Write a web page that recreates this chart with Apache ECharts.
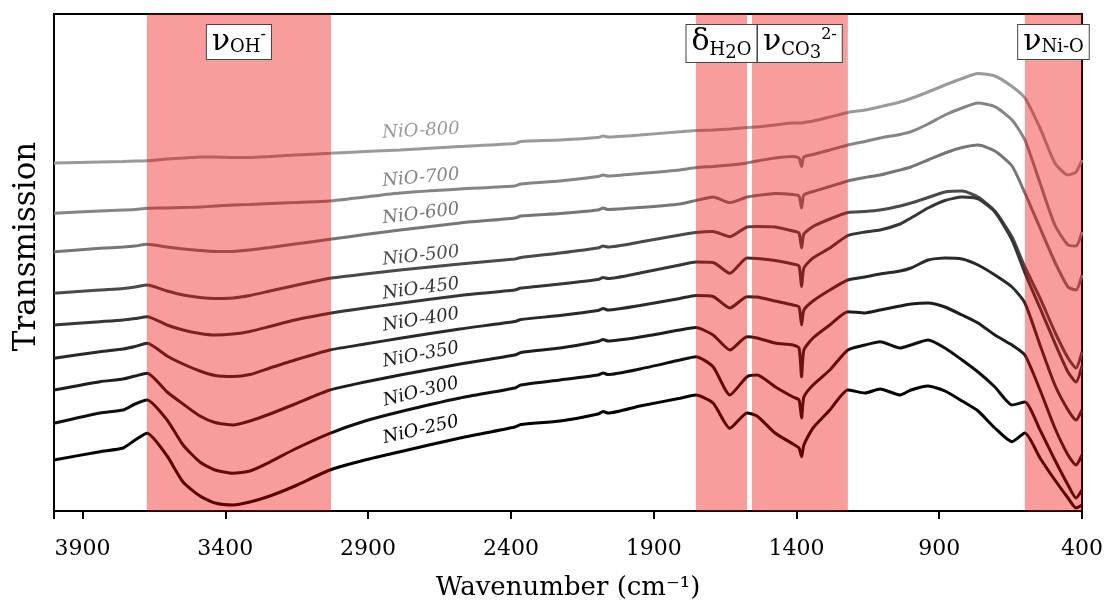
<!DOCTYPE html>
<html><head><meta charset="utf-8">
<script src="https://cdn.jsdelivr.net/npm/echarts@6/dist/echarts.min.js"></script>
<style>html,body{margin:0;padding:0;background:#fff}#c{width:1110px;height:603px}</style>
</head><body><div id="c"></div>
<script>
// x values: wavenumber (cm-1)
const wavenumbers = [4000,3839,3758,3716,3674,3604,3548,3489,3436,3373,3314,3244,3156,3034,2911,2788,2578,2386,2365,2228,2095,2077,2060,1948,1808,1752,1692,1633,1573,1538,1475,1412,1391,1382,1374,1342,1283,1220,1160,1107,1037,999,939,880,820,764,705,645,600,547,495,449,421,400];
// transmission (arbitrary offset units), one array per sample
const nio800 = [337,338,338.5,339,339.3,341,342,343,343,342.5,342.5,343.5,345,346.7,348.5,350,353.5,356.5,358.5,360,362.5,364,363,365,368.3,369.5,370,371,372.5,373,375,377,377,377,377.5,379,383,387.5,390,393.3,398,401.5,408,415,421.5,426.5,424,413.5,402,372,337,325,328,340];
const nio700 = [286.7,289,290,290.5,291.7,292,292.5,293,294,295,295.5,296.5,297.5,299,303,307,311,314,316,319,323.5,325,324,326.5,330,332.5,333.5,335,337,339,342,343.5,342,333.5,343,345.5,350,355,358.5,362,365.5,368.3,376,385,392,397,393.3,380,360,317,275,255,254,268];
const nio600 = [248.3,251.7,253,254,255.7,253,251,249.5,248.5,248.5,250,252.5,256,260.7,265.5,270,277,282,284,286.5,290,292,290.5,292.5,296,299.5,303,297.5,303,304.5,306.5,305.5,304,292,305,308.5,313.5,319,322.5,325,330,333,340,347,352.5,355,349,334,307,272,238,213,210,225];
const nio500 = [206.7,210,211.5,213,215,209,205,202.5,201.5,202,204.5,209,214.5,221.7,226,230,236,241,242.5,247,252,254,253,258,265,267.5,268.5,263.3,273,273.5,273,269,267,252,266,273.5,281,287.5,288.5,290,294,297,302.5,308,309,303,289,263,233,202,168,142,132,148];
const nio450 = [175,178.3,180,181.5,183.3,175,170,166.5,165,166,168.5,173.5,180,186.7,192,196.7,204.5,210,212,216,220.5,222.5,221.5,227,235,238,237.5,226.7,242,241.5,239.5,236,234,213.3,232,242,252,264.5,268,270,276,282,292,299.5,303,301,288,260,227,192,157,128,118,134];
const nio400 = [141.7,148.3,151,153.5,156.7,144,136,129,124.5,123.5,125.5,132,140,150,156,161.7,171,178.5,180.5,184.5,189.5,191.5,190,194.5,201.5,204.5,203.5,192,203.3,203,199,195,193,175,190,199,210,220,223,226,229,232,240,242,241,235,225,213,197,155,115,90,80,90];
const nio350 = [110,118.3,121,124,126.7,108,96,84,77.5,75,79,86,96,110,118,125,136,145,147.5,152,158.5,160.5,159,163,170,172.5,165,150,163.3,162,157,155,152,123.3,150,162,175,188.3,187,190,194,196,197,193,185,177,165,155,145,110,72,45,35,45];
const nio300 = [76.7,87,90,96,100,80,55,38,30,26.7,29,38,51,66.7,79,88.3,102,112,115,120,125,127,125.5,131,140,143.3,133.3,105,123.3,125,113.3,103,100,82,103,115,130,150,155,158.3,152,155,160,152,140,128,113,95,98,70,40,15,2,10];
const nio250 = [40,48.3,52,60,66.7,44,18,4,-3,-5,-2,4,14,30,40,48.3,62,73,75.5,79,86,88.5,87,94,101.7,105,97,71.7,87,84,67,56,52,43.3,55,72,90,110,107,111,105,110,114,109,99,89,72,58.3,67,42,20,2,-8,-5];

const sampleNames = ['NiO-800','NiO-700','NiO-600','NiO-500','NiO-450','NiO-400','NiO-350','NiO-300','NiO-250'];
const sampleValues = [nio800,nio700,nio600,nio500,nio450,nio400,nio350,nio300,nio250];
// where each curve's name label sits (wavenumber, transmission)
const labelWave = 2715;
const labelValues = [369,322,286,244,211,180,145,108,70];

// shaded bands (cm-1)
const bandStarts = [3675,1752,1556,600];
const bandEnds = [3030,1573,1220,400];
const bandLabels = ['{n|ν}{s|OH}{p|-}','{d|δ}{s|H}{ss|2}{s|O}','{n|ν}{s|CO}{ss|3}{p|2-}','{n|ν}{s|Ni-O}'];

const xTicks = [3900,3400,2900,2400,1900,1400,900,400];

// styles
const lineColors = ['#9a9a9a','#858585','#767676','#4a4a4a','#363636','#2a2a2a','#1d1d1d','#101010','#000000'];
const FONT = 'DejaVu Serif';

const chart = echarts.init(document.getElementById('c'));

const series = sampleNames.map((n, i) => ({
  name: n, type: 'line', symbol: 'none', smooth: 0.2, silent: true, z: 2,
  lineStyle: {width: 3, color: lineColors[i]},
  data: wavenumbers.map((w, j) => [w, sampleValues[i][j]])
}));

series[0].markArea = {
  silent: true, z: 5,
  itemStyle: {color: 'rgba(237,0,0,0.39)'},
  label: {
    show: true, position: 'insideTop', distance: 11,
    backgroundColor: '#fff', borderColor: '#444', borderWidth: 1,
    padding: [2, 5, 0, 5], color: '#000', fontFamily: FONT,
    rich: {
      n: {fontSize: 30, fontFamily: FONT, color: '#000', lineHeight: 24, verticalAlign: 'top'},
      d: {fontSize: 30, fontFamily: FONT, color: '#000', lineHeight: 30, verticalAlign: 'top'},
      s: {fontSize: 18, fontFamily: FONT, color: '#000', verticalAlign: 'bottom', padding: [11, 0, 3, 0]},
      ss: {fontSize: 18, fontFamily: FONT, color: '#000', verticalAlign: 'bottom', padding: [17, 0, 0, 0]},
      p: {fontSize: 16, fontFamily: FONT, color: '#000', verticalAlign: 'top', lineHeight: 16}
    }
  },
  data: bandStarts.map((b, i) => [
    {xAxis: b, label: {formatter: bandLabels[i]}},
    {xAxis: bandEnds[i]}
  ])
};

chart.setOption({
  animation: false,
  backgroundColor: '#fff',
  grid: {left: 54, right: 28, top: 14, bottom: 92, show: true, borderColor: '#000', borderWidth: 2,
    backgroundColor: 'transparent', containLabel: false, outerBoundsMode: 'none'},
  xAxis: {
    type: 'value', inverse: true, min: 400, max: 4000, interval: 500,
    name: 'Wavenumber (cm⁻¹)', nameLocation: 'middle', nameGap: 64,
    nameTextStyle: {fontSize: 26, fontFamily: FONT, color: '#000'},
    axisLine: {show: true, onZero: false, lineStyle: {color: '#000', width: 2}},
    axisTick: {show: true, length: 8, lineStyle: {color: '#000', width: 2}},
    axisLabel: {fontSize: 22, fontFamily: FONT, color: '#000', margin: 27,
      formatter: v => xTicks.includes(v) ? String(v) : ''},
    splitLine: {show: false}
  },
  yAxis: {
    type: 'value', min: -11, max: 486,
    name: 'Transmission', nameLocation: 'middle', nameGap: 12,
    nameTextStyle: {fontSize: 31, fontFamily: FONT, color: '#000', padding: [0, 0, 0, 32]},
    axisLine: {show: true, lineStyle: {color: '#000', width: 2}},
    axisTick: {show: false}, axisLabel: {show: false}, splitLine: {show: false}
  },
  series: series
});

// curve name labels, placed through the chart's own scales
const idxA = wavenumbers.indexOf(2911), idxB = wavenumbers.indexOf(2578);
const graphics = sampleNames.map((n, i) => {
  const p = chart.convertToPixel({gridIndex: 0}, [labelWave, labelValues[i]]);
  const a = chart.convertToPixel({gridIndex: 0}, [wavenumbers[idxA], sampleValues[i][idxA]]);
  const b = chart.convertToPixel({gridIndex: 0}, [wavenumbers[idxB], sampleValues[i][idxB]]);
  const ang = Math.atan2(a[1] - b[1], b[0] - a[0]);
  return {
    type: 'text', x: p[0], y: p[1], rotation: ang, z: 20, silent: true,
    style: {text: n, fill: lineColors[i], font: 'italic 18px "DejaVu Serif"', align: 'center', verticalAlign: 'middle'}
  };
});
chart.setOption({graphic: graphics});
</script></body></html>
